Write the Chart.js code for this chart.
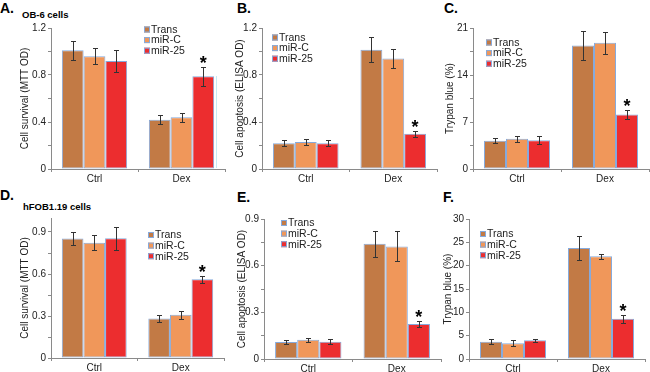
<!DOCTYPE html>
<html>
<head>
<meta charset="utf-8">
<script src="https://cdn.jsdelivr.net/npm/chart.js@4.4.1/dist/chart.umd.min.js"></script>
<style>
  html, body { margin: 0; padding: 0; background: #fff; }
  #wrap { position: relative; width: 650px; height: 372px; overflow: hidden;
          font-family: "Liberation Sans", Arial, sans-serif; }
  #wrap canvas { position: absolute; }
  .lbl { position: absolute; font-weight: bold; line-height: 1; color: #000; white-space: nowrap; }
  .big { font-size: 14px; }
  .small { font-size: 9.5px; }
</style>
</head>
<body>
<div id="wrap">
  <div class="lbl big" style="left:0px;top:1px">A.</div>
  <div class="lbl small" style="left:22px;top:10px">OB-6 cells</div>
  <div class="lbl big" style="left:237px;top:1px">B.</div>
  <div class="lbl big" style="left:444px;top:1px">C.</div>
  <div class="lbl big" style="left:0px;top:188px">D.</div>
  <div class="lbl small" style="left:23px;top:202px">hFOB1.19 cells</div>
  <div class="lbl big" style="left:237px;top:190px">E.</div>
  <div class="lbl big" style="left:443px;top:190px">F.</div>
  <div style="position:absolute;left:216px;top:76px;width:1px;height:92px;background:#c6eaf5"></div>
</div>
<script>
const categories = ['Ctrl', 'Dex'];
const groups = ['Trans', 'miR-C', 'miR-25'];

// A. OB-6 cells - cell survival (MTT OD)
const aTrans = [1.01, 0.42], aMirC = [0.96, 0.44], aMir25 = [0.92, 0.79];
const aTransErr = [0.08, 0.04], aMirCErr = [0.07, 0.04], aMir25Err = [0.095, 0.08];
const aTicks = [0, 0.2, 0.4, 0.6, 0.8, 1.0, 1.2];
const aTickLabels = ['0', '', '0.4', '', '0.8', '', '1.2'];

// B. OB-6 cells - cell apoptosis (ELISA OD)
const bTrans = [0.22, 1.015], bMirC = [0.23, 0.94], bMir25 = [0.22, 0.30];
const bTransErr = [0.028, 0.107], bMirCErr = [0.028, 0.082], bMir25Err = [0.024, 0.027];
const bTicks = [0, 0.2, 0.4, 0.6, 0.8, 1.0, 1.2];
const bTickLabels = ['0', '', '0.4', '', '0.8', '', '1.2'];

// C. OB-6 cells - trypan blue (%)
const cTrans = [4.2, 18.4], cMirC = [4.5, 18.8], cMir25 = [4.3, 8.1];
const cTransErr = [0.4, 2.2], cMirCErr = [0.45, 1.65], cMir25Err = [0.55, 0.7];
const cTicks = [0, 3.5, 7, 10.5, 14, 17.5, 21];
const cTickLabels = ['0', '', '7', '', '14', '', '21'];

// D. hFOB1.19 cells - cell survival (MTT OD)
const dTrans = [0.853, 0.283], dMirC = [0.824, 0.309], dMir25 = [0.855, 0.563];
const dTransErr = [0.048, 0.023], dMirCErr = [0.055, 0.028], dMir25Err = [0.08, 0.024];
const dTicks = [0, 0.15, 0.3, 0.45, 0.6, 0.75, 0.9];
const dTickLabels = ['0', '', '0.3', '', '0.6', '', '0.9'];

// E. hFOB1.19 cells - cell apoptosis (ELISA OD)
const eTrans = [0.109, 0.741], eMirC = [0.124, 0.724], eMir25 = [0.111, 0.225];
const eTransErr = [0.012, 0.084], eMirCErr = [0.012, 0.096], eMir25Err = [0.016, 0.018];
const eTicks = [0, 0.15, 0.3, 0.45, 0.6, 0.75, 0.9];
const eTickLabels = ['0', '', '0.3', '', '0.6', '', '0.9'];

// F. hFOB1.19 cells - trypan blue (%)
const fTrans = [3.7, 23.8], fMirC = [3.4, 22.0], fMir25 = [4.0, 8.6];
const fTransErr = [0.5, 2.6], fMirCErr = [0.7, 0.6], fMir25Err = [0.35, 0.9];
const fTicks = [0, 5, 10, 15, 20, 25, 30];
const fTickLabels = ['0', '5', '10', '15', '20', '25', '30'];

// significance star: miR-25 vs Dex
const starFlags = [false, true];

const FONT = '"Liberation Sans", Arial, sans-serif';
const colors = ['#c27a45', '#f0975a', '#ec2d2f'];
const edge = '#86aadc';
const axisGrey = '#8a8a8a';

// error bars + star
const errPlugin = {
  id: 'errbars',
  afterDatasetsDraw(chart) {
    const ctx = chart.ctx, ys = chart.scales.y;
    chart.data.datasets.forEach((ds, di) => {
      const meta = chart.getDatasetMeta(di);
      meta.data.forEach((bar, i) => {
        const v = ds.data[i], e = ds.errors[i];
        const x = Math.round(bar.x) + 0.5;
        const yt = Math.round(ys.getPixelForValue(v + e)) + 0.5;
        const yb = Math.round(ys.getPixelForValue(v - e)) + 0.5;
        ctx.save();
        ctx.strokeStyle = '#333';
        ctx.lineWidth = 1;
        ctx.beginPath();
        ctx.moveTo(x, yt); ctx.lineTo(x, yb);
        ctx.moveTo(x - 2.5, yt); ctx.lineTo(x + 2.5, yt);
        ctx.moveTo(x - 2.5, yb); ctx.lineTo(x + 2.5, yb);
        ctx.stroke();
        if (ds.stars && ds.stars[i]) {
          ctx.fillStyle = '#000';
          ctx.font = 'bold 18px ' + FONT;
          ctx.textAlign = 'center';
          ctx.textBaseline = 'alphabetic';
          ctx.fillText('*', bar.x, yt + 1);
        }
        ctx.restore();
      });
    });
  }
};

// small boxed legend inside the plot
const boxLegend = {
  id: 'boxlegend',
  afterDraw(chart, args, opts) {
    const ctx = chart.ctx;
    ctx.save();
    chart.data.datasets.forEach((ds, i) => {
      const y = opts.y + i * opts.step;
      ctx.fillStyle = ds.backgroundColor;
      ctx.fillRect(opts.x, y - 3, 6, 6);
      ctx.strokeStyle = edge;
      ctx.lineWidth = 1;
      ctx.strokeRect(opts.x + 0.5, y - 2.5, 5, 5);
      ctx.fillStyle = '#222';
      ctx.font = '10.5px ' + FONT;
      ctx.textBaseline = 'middle';
      ctx.textAlign = 'left';
      ctx.fillText(ds.label, opts.x + 7, y + 0.5);
    });
    ctx.restore();
  }
};

function makePanel(p) {
  const [l, t, r, b] = p.plot;
  const cl = Math.round(p.titleX - 6), ct = t - 9;
  const cw = Math.round(r + 2 - cl), ch = b + 17 - ct;
  const cv = document.createElement('canvas');
  cv.width = cw; cv.height = ch;
  cv.style.left = cl + 'px'; cv.style.top = ct + 'px';
  cv.style.width = cw + 'px'; cv.style.height = ch + 'px';
  document.getElementById('wrap').appendChild(cv);

  new Chart(cv, {
    type: 'bar',
    data: {
      labels: categories,
      datasets: p.series.map((vals, i) => ({
        label: groups[i],
        data: vals,
        errors: p.errs[i],
        stars: i === 2 ? starFlags : null,
        backgroundColor: colors[i],
        borderColor: edge,
        borderWidth: 1,
        borderSkipped: false,
        barPercentage: 1,
        categoryPercentage: 0.75
      }))
    },
    options: {
      responsive: false,
      animation: false,
      events: [],
      layout: { padding: { left: 0, top: t - ct, right: 2, bottom: 0 } },
      plugins: {
        legend: { display: false },
        tooltip: { enabled: false },
        boxlegend: { x: p.legend[0] - cl, y: p.legend[1] - ct, step: 10.6 }
      },
      scales: {
        x: {
          offset: true,
          grid: { offset: true, drawOnChartArea: false, tickLength: 3, color: axisGrey },
          border: { color: axisGrey },
          ticks: { color: '#222', font: { family: FONT, size: 10 }, padding: 1, maxRotation: 0 },
          afterFit: s => { s.height = ch - (b - ct); }
        },
        y: {
          min: 0,
          max: p.max,
          afterBuildTicks: axis => { axis.ticks = p.ticks.map(v => ({ value: v })); },
          grid: { drawOnChartArea: false, tickLength: 3, color: axisGrey },
          border: { color: axisGrey },
          ticks: {
            autoSkip: false,
            color: '#222',
            padding: 2,
            font: { family: FONT, size: 10 },
            callback: (v, i) => p.tickLabels[i]
          },
          title: {
            display: true,
            text: p.yTitle,
            color: '#222',
            padding: 0,
            font: { family: FONT, size: 10 }
          },
          afterFit: s => { s.width = l - cl; }
        }
      }
    },
    plugins: [errPlugin, boxLegend]
  });
}

makePanel({
  plot: [51, 28, 225, 169], titleX: 25, max: 1.2,
  series: [aTrans, aMirC, aMir25], errs: [aTransErr, aMirCErr, aMir25Err],
  ticks: aTicks, tickLabels: aTickLabels, yTitle: 'Cell survival (MTT OD)',
  legend: [144, 29.5]
});
makePanel({
  plot: [262, 28, 437, 169], titleX: 240, max: 1.2,
  series: [bTrans, bMirC, bMir25], errs: [bTransErr, bMirCErr, bMir25Err],
  ticks: bTicks, tickLabels: bTickLabels, yTitle: 'Cell apoptosis (ELISA OD)',
  legend: [272, 37.5]
});
makePanel({
  plot: [473, 28, 649, 169], titleX: 450, max: 21,
  series: [cTrans, cMirC, cMir25], errs: [cTransErr, cMirCErr, cMir25Err],
  ticks: cTicks, tickLabels: cTickLabels, yTitle: 'Trypan blue (%)',
  legend: [486, 42.5]
});
makePanel({
  plot: [51, 218, 224, 358], titleX: 25, max: 1.0,
  series: [dTrans, dMirC, dMir25], errs: [dTransErr, dMirCErr, dMir25Err],
  ticks: dTicks, tickLabels: dTickLabels, yTitle: 'Cell survival (MTT OD)',
  legend: [148, 235]
});
makePanel({
  plot: [264, 219, 441, 359], titleX: 242, max: 0.9,
  series: [eTrans, eMirC, eMir25], errs: [eTransErr, eMirCErr, eMir25Err],
  ticks: eTicks, tickLabels: eTickLabels, yTitle: 'Cell apoptosis (ELISA OD)',
  legend: [281, 223]
});
makePanel({
  plot: [469, 219, 645, 359], titleX: 448, max: 30,
  series: [fTrans, fMirC, fMir25], errs: [fTransErr, fMirCErr, fMir25Err],
  ticks: fTicks, tickLabels: fTickLabels, yTitle: 'Trypan blue (%)',
  legend: [480, 234]
});
</script>
</body>
</html>
